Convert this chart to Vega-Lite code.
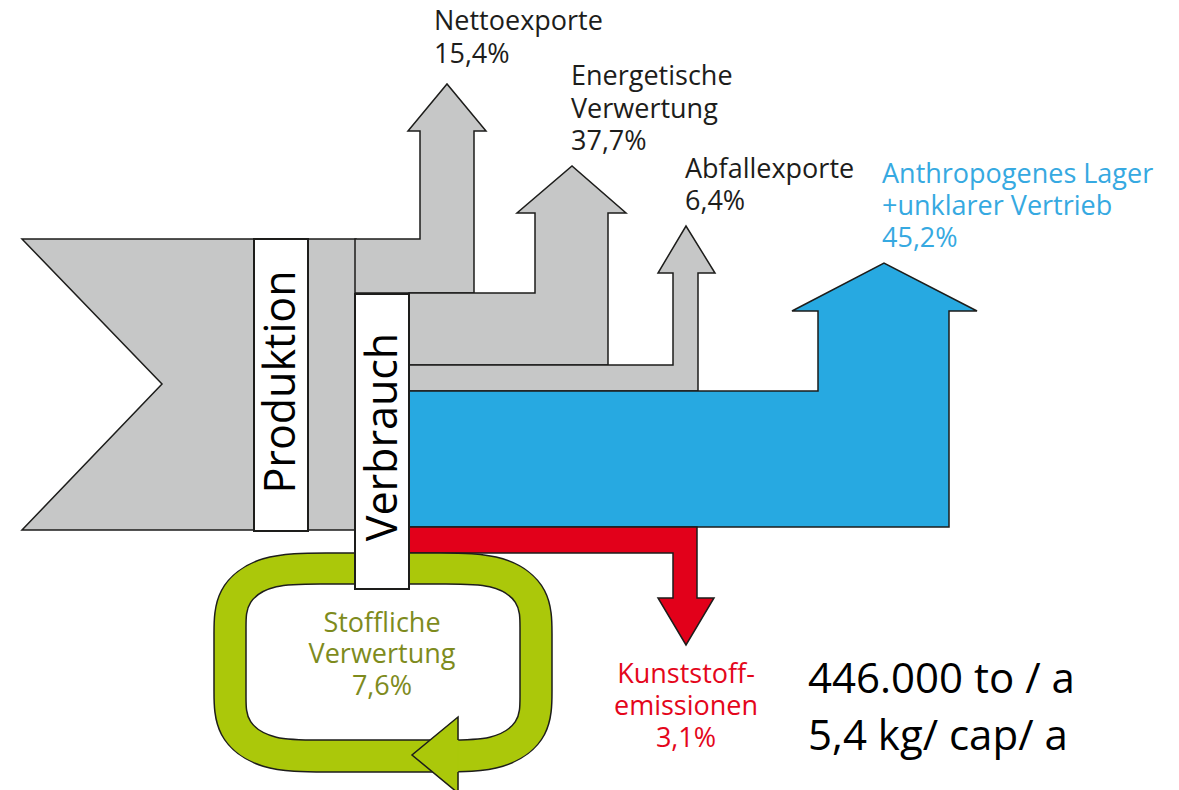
{
  "$schema": "https://vega.github.io/schema/vega-lite/v6.json",
  "width": 1179,
  "height": 790,
  "padding": 0,
  "autosize": {"type": "fit", "contains": "padding"},
  "background": "white",
  "config": {"view": {"stroke": null}},
  "datasets": {
    "poly": [
      {"shape": "input", "i": 1, "x": 22, "y": 239},
      {"shape": "input", "i": 2, "x": 356, "y": 239},
      {"shape": "input", "i": 3, "x": 356, "y": 530},
      {"shape": "input", "i": 4, "x": 22, "y": 530},
      {"shape": "input", "i": 5, "x": 162, "y": 384},

      {"shape": "netto", "i": 1, "x": 355, "y": 239},
      {"shape": "netto", "i": 2, "x": 420, "y": 239},
      {"shape": "netto", "i": 3, "x": 420, "y": 131},
      {"shape": "netto", "i": 4, "x": 408, "y": 131},
      {"shape": "netto", "i": 5, "x": 447, "y": 84},
      {"shape": "netto", "i": 6, "x": 486, "y": 131},
      {"shape": "netto", "i": 7, "x": 474, "y": 131},
      {"shape": "netto", "i": 8, "x": 474, "y": 293},
      {"shape": "netto", "i": 9, "x": 355, "y": 293},

      {"shape": "energ", "i": 1, "x": 409, "y": 293},
      {"shape": "energ", "i": 2, "x": 535, "y": 293},
      {"shape": "energ", "i": 3, "x": 535, "y": 213},
      {"shape": "energ", "i": 4, "x": 517, "y": 213},
      {"shape": "energ", "i": 5, "x": 572, "y": 166},
      {"shape": "energ", "i": 6, "x": 626, "y": 213},
      {"shape": "energ", "i": 7, "x": 608, "y": 213},
      {"shape": "energ", "i": 8, "x": 608, "y": 365},
      {"shape": "energ", "i": 9, "x": 409, "y": 365},

      {"shape": "abfall", "i": 1, "x": 409, "y": 365},
      {"shape": "abfall", "i": 2, "x": 673, "y": 365},
      {"shape": "abfall", "i": 3, "x": 673, "y": 273},
      {"shape": "abfall", "i": 4, "x": 658, "y": 273},
      {"shape": "abfall", "i": 5, "x": 686, "y": 226},
      {"shape": "abfall", "i": 6, "x": 715, "y": 273},
      {"shape": "abfall", "i": 7, "x": 698, "y": 273},
      {"shape": "abfall", "i": 8, "x": 698, "y": 391},
      {"shape": "abfall", "i": 9, "x": 409, "y": 391},

      {"shape": "lager", "i": 1, "x": 409, "y": 391},
      {"shape": "lager", "i": 2, "x": 818, "y": 391},
      {"shape": "lager", "i": 3, "x": 818, "y": 311},
      {"shape": "lager", "i": 4, "x": 792, "y": 311},
      {"shape": "lager", "i": 5, "x": 884, "y": 263},
      {"shape": "lager", "i": 6, "x": 977, "y": 311},
      {"shape": "lager", "i": 7, "x": 949, "y": 311},
      {"shape": "lager", "i": 8, "x": 949, "y": 527},
      {"shape": "lager", "i": 9, "x": 409, "y": 527},

      {"shape": "emission", "i": 1, "x": 409, "y": 527},
      {"shape": "emission", "i": 2, "x": 697, "y": 527},
      {"shape": "emission", "i": 3, "x": 697, "y": 598},
      {"shape": "emission", "i": 4, "x": 714, "y": 598},
      {"shape": "emission", "i": 5, "x": 686, "y": 645},
      {"shape": "emission", "i": 6, "x": 658, "y": 598},
      {"shape": "emission", "i": 7, "x": 673, "y": 598},
      {"shape": "emission", "i": 8, "x": 673, "y": 553},
      {"shape": "emission", "i": 9, "x": 409, "y": 553},

      {"shape": "loopOuter", "i": 1, "x": 259, "y": 553},
      {"shape": "loopOuter", "i": 2, "x": 329, "y": 553},
      {"shape": "loopOuter", "i": 3, "x": 383, "y": 553},
      {"shape": "loopOuter", "i": 4, "x": 437, "y": 553},
      {"shape": "loopOuter", "i": 5, "x": 507, "y": 553},
      {"shape": "loopOuter", "i": 6, "x": 552, "y": 588},
      {"shape": "loopOuter", "i": 7, "x": 552, "y": 638},
      {"shape": "loopOuter", "i": 8, "x": 552, "y": 662},
      {"shape": "loopOuter", "i": 9, "x": 552, "y": 687},
      {"shape": "loopOuter", "i": 10, "x": 552, "y": 737},
      {"shape": "loopOuter", "i": 11, "x": 507, "y": 772},
      {"shape": "loopOuter", "i": 12, "x": 437, "y": 772},
      {"shape": "loopOuter", "i": 13, "x": 383, "y": 772},
      {"shape": "loopOuter", "i": 14, "x": 329, "y": 772},
      {"shape": "loopOuter", "i": 15, "x": 259, "y": 772},
      {"shape": "loopOuter", "i": 16, "x": 214, "y": 737},
      {"shape": "loopOuter", "i": 17, "x": 214, "y": 687},
      {"shape": "loopOuter", "i": 18, "x": 214, "y": 662},
      {"shape": "loopOuter", "i": 19, "x": 214, "y": 638},
      {"shape": "loopOuter", "i": 20, "x": 214, "y": 588},

      {"shape": "loopInner", "i": 1, "x": 274, "y": 584},
      {"shape": "loopInner", "i": 2, "x": 316, "y": 584},
      {"shape": "loopInner", "i": 3, "x": 383, "y": 584},
      {"shape": "loopInner", "i": 4, "x": 450, "y": 584},
      {"shape": "loopInner", "i": 5, "x": 492, "y": 584},
      {"shape": "loopInner", "i": 6, "x": 520, "y": 601},
      {"shape": "loopInner", "i": 7, "x": 520, "y": 626},
      {"shape": "loopInner", "i": 8, "x": 520, "y": 662},
      {"shape": "loopInner", "i": 9, "x": 520, "y": 698},
      {"shape": "loopInner", "i": 10, "x": 520, "y": 723},
      {"shape": "loopInner", "i": 11, "x": 492, "y": 740},
      {"shape": "loopInner", "i": 12, "x": 450, "y": 740},
      {"shape": "loopInner", "i": 13, "x": 383, "y": 740},
      {"shape": "loopInner", "i": 14, "x": 316, "y": 740},
      {"shape": "loopInner", "i": 15, "x": 274, "y": 740},
      {"shape": "loopInner", "i": 16, "x": 246, "y": 723},
      {"shape": "loopInner", "i": 17, "x": 246, "y": 698},
      {"shape": "loopInner", "i": 18, "x": 246, "y": 662},
      {"shape": "loopInner", "i": 19, "x": 246, "y": 626},
      {"shape": "loopInner", "i": 20, "x": 246, "y": 601},

      {"shape": "loopHead", "i": 1, "x": 458, "y": 717},
      {"shape": "loopHead", "i": 2, "x": 412, "y": 755},
      {"shape": "loopHead", "i": 3, "x": 458, "y": 793},

      {"shape": "loopHeadEdge", "i": 1, "x": 458, "y": 740},
      {"shape": "loopHeadEdge", "i": 2, "x": 458, "y": 717},
      {"shape": "loopHeadEdge", "i": 3, "x": 412, "y": 755},
      {"shape": "loopHeadEdge", "i": 4, "x": 458, "y": 793},
      {"shape": "loopHeadEdge", "i": 5, "x": 458, "y": 772}
    ],
    "boxes": [
      {"node": "Produktion", "x": 254, "x2": 308, "y": 239, "y2": 531},
      {"node": "Verbrauch", "x": 355, "x2": 409, "y": 294, "y2": 589}
    ],
    "labels": [
      {"kind": "flow", "grp": "grau", "text": "Nettoexporte", "x": 434, "y": 30},
      {"kind": "flow", "grp": "grau", "text": "15,4%", "x": 434, "y": 63},
      {"kind": "flow", "grp": "grau", "text": "Energetische", "x": 571, "y": 85},
      {"kind": "flow", "grp": "grau", "text": "Verwertung", "x": 571, "y": 118},
      {"kind": "flow", "grp": "grau", "text": "37,7%", "x": 571, "y": 150},
      {"kind": "flow", "grp": "grau", "text": "Abfallexporte", "x": 685, "y": 178},
      {"kind": "flow", "grp": "grau", "text": "6,4%", "x": 685, "y": 210},
      {"kind": "flow", "grp": "lager", "text": "Anthropogenes Lager", "x": 882, "y": 183},
      {"kind": "flow", "grp": "lager", "text": "+unklarer Vertrieb", "x": 882, "y": 215},
      {"kind": "flow", "grp": "lager", "text": "45,2%", "x": 882, "y": 247},
      {"kind": "loop", "grp": "stofflich", "text": "Stoffliche", "x": 382, "y": 632},
      {"kind": "loop", "grp": "stofflich", "text": "Verwertung", "x": 382, "y": 663},
      {"kind": "loop", "grp": "stofflich", "text": "7,6%", "x": 382, "y": 695},
      {"kind": "loop", "grp": "emission", "text": "Kunststoff-", "x": 686, "y": 683},
      {"kind": "loop", "grp": "emission", "text": "emissionen", "x": 686, "y": 715},
      {"kind": "loop", "grp": "emission", "text": "3,1%", "x": 686, "y": 747},
      {"kind": "total", "grp": "total", "text": "446.000 to / a", "x": 808, "y": 693},
      {"kind": "total", "grp": "total", "text": "5,4 kg/ cap/ a", "x": 808, "y": 750},
      {"kind": "node", "grp": "total", "text": "Produktion", "x": 295, "y": 382},
      {"kind": "node", "grp": "total", "text": "Verbrauch", "x": 397, "y": 437}
    ]
  },
  "encoding": {
    "x": {"field": "x", "type": "quantitative", "scale": {"domain": [0, 1179], "nice": false, "zero": false}, "axis": null},
    "y": {"field": "y", "type": "quantitative", "scale": {"domain": [0, 790], "reverse": true, "nice": false, "zero": false}, "axis": null}
  },
  "layer": [
    {
      "data": {"name": "poly"},
      "transform": [{"filter": "datum.shape === 'input' || datum.shape === 'netto' || datum.shape === 'energ' || datum.shape === 'abfall'"}],
      "mark": {"type": "line", "interpolate": "linear-closed", "fill": "#c6c7c7", "stroke": "#1d1d1b", "strokeWidth": 1.5, "clip": true},
      "encoding": {"order": {"field": "i"}, "detail": {"field": "shape"}}
    },
    {
      "data": {"name": "poly"},
      "transform": [{"filter": "datum.shape === 'lager'"}],
      "mark": {"type": "line", "interpolate": "linear-closed", "fill": "#27a9e1", "stroke": "#1d1d1b", "strokeWidth": 1.5, "clip": true},
      "encoding": {"order": {"field": "i"}}
    },
    {
      "data": {"name": "poly"},
      "transform": [{"filter": "datum.shape === 'emission'"}],
      "mark": {"type": "line", "interpolate": "linear-closed", "fill": "#e2001a", "stroke": "#1d1d1b", "strokeWidth": 1.5, "clip": true},
      "encoding": {"order": {"field": "i"}}
    },
    {
      "data": {"name": "poly"},
      "transform": [{"filter": "datum.shape === 'loopOuter'"}],
      "mark": {"type": "line", "interpolate": "basis-closed", "fill": "#abc80a", "stroke": "#1d1d1b", "strokeWidth": 1.5, "clip": true},
      "encoding": {"order": {"field": "i"}}
    },
    {
      "data": {"name": "poly"},
      "transform": [{"filter": "datum.shape === 'loopInner'"}],
      "mark": {"type": "line", "interpolate": "basis-closed", "fill": "#ffffff", "stroke": "#1d1d1b", "strokeWidth": 1.5, "clip": true},
      "encoding": {"order": {"field": "i"}}
    },
    {
      "data": {"name": "poly"},
      "transform": [{"filter": "datum.shape === 'loopHead'"}],
      "mark": {"type": "line", "interpolate": "linear-closed", "fill": "#abc80a", "stroke": "#abc80a", "strokeWidth": 0.5, "clip": true},
      "encoding": {"order": {"field": "i"}}
    },
    {
      "data": {"name": "poly"},
      "transform": [{"filter": "datum.shape === 'loopHeadEdge'"}],
      "mark": {"type": "line", "interpolate": "linear", "stroke": "#1d1d1b", "strokeWidth": 1.5, "clip": true},
      "encoding": {"order": {"field": "i"}}
    },
    {
      "data": {"name": "boxes"},
      "mark": {"type": "rect", "fill": "#ffffff", "stroke": "#1d1d1b", "strokeWidth": 2},
      "encoding": {
        "x2": {"field": "x2"},
        "y2": {"field": "y2"}
      }
    },
    {
      "data": {"name": "labels"},
      "transform": [{"filter": "datum.kind === 'flow'"}],
      "mark": {"type": "text", "align": "left", "baseline": "alphabetic", "font": "Open Sans", "fontSize": 27},
      "encoding": {
        "text": {"field": "text"},
        "color": {"field": "grp", "type": "nominal", "legend": null, "scale": {"domain": ["grau", "lager", "stofflich", "emission", "total"], "range": ["#1d1d1b", "#36a9e1", "#7e8b1d", "#e4061b", "#000000"]}}
      }
    },
    {
      "data": {"name": "labels"},
      "transform": [{"filter": "datum.kind === 'loop'"}],
      "mark": {"type": "text", "align": "center", "baseline": "alphabetic", "font": "Open Sans", "fontSize": 27},
      "encoding": {
        "text": {"field": "text"},
        "color": {"field": "grp", "type": "nominal", "legend": null}
      }
    },
    {
      "data": {"name": "labels"},
      "transform": [{"filter": "datum.kind === 'total'"}],
      "mark": {"type": "text", "align": "left", "baseline": "alphabetic", "font": "Open Sans", "fontSize": 42},
      "encoding": {
        "text": {"field": "text"},
        "color": {"field": "grp", "type": "nominal", "legend": null}
      }
    },
    {
      "data": {"name": "labels"},
      "transform": [{"filter": "datum.kind === 'node'"}],
      "mark": {"type": "text", "align": "center", "baseline": "alphabetic", "angle": 270, "font": "Open Sans", "fontSize": 43},
      "encoding": {
        "text": {"field": "text"},
        "color": {"field": "grp", "type": "nominal", "legend": null}
      }
    }
  ]
}
